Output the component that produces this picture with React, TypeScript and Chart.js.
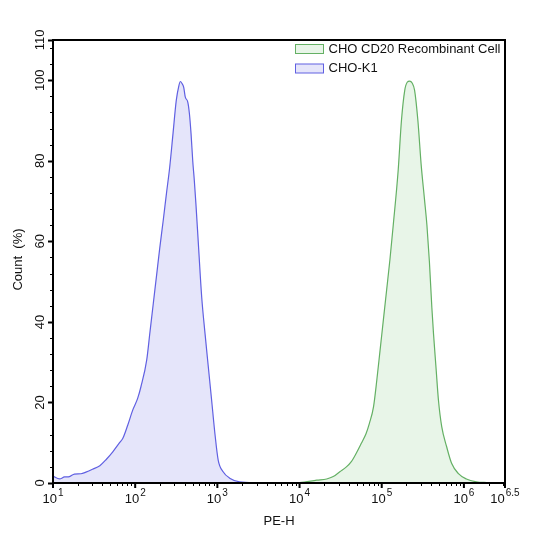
import React, { useEffect, useRef } from "react";
import Chart from "chart.js/auto";

// log10(PE-H) positions and counts (%)
const choK1Exp = [1.0, 1.08, 1.14, 1.2, 1.26, 1.34, 1.4, 1.48, 1.57, 1.65, 1.73, 1.81, 1.85, 1.91, 1.97, 2.03, 2.07, 2.14, 2.18, 2.22, 2.26, 2.3, 2.34, 2.38, 2.42, 2.46, 2.5, 2.53, 2.55, 2.57, 2.59, 2.61, 2.64, 2.66, 2.68, 2.7, 2.72, 2.74, 2.77, 2.81, 2.85, 2.89, 2.93, 2.97, 3.01, 3.07, 3.15, 3.27, 3.48, 3.8, 4.1];
const choK1Count = [1.7, 1.0, 1.5, 1.6, 2.2, 2.3, 2.7, 3.4, 4.3, 5.9, 7.8, 10.0, 11.1, 14.4, 18.1, 21.0, 23.9, 30.5, 37.5, 44.5, 51.5, 58.5, 65, 71.8, 78.4, 86.7, 95.0, 98.5, 99.7, 99.2, 98.3, 95.8, 94.6, 91.7, 86.7, 80.1, 75.0, 69.0, 59.0, 46.0, 37.1, 28.8, 20.6, 12.3, 5.7, 2.8, 1.2, 0.3, 0.1, 0.05, 0];

const cd20Exp = [3.3, 3.7, 4.0, 4.21, 4.33, 4.41, 4.49, 4.57, 4.63, 4.69, 4.75, 4.81, 4.85, 4.9, 4.94, 4.98, 5.02, 5.06, 5.1, 5.14, 5.2, 5.24, 5.28, 5.31, 5.34, 5.37, 5.4, 5.44, 5.48, 5.52, 5.55, 5.58, 5.61, 5.63, 5.66, 5.69, 5.73, 5.79, 5.85, 5.93, 6.03, 6.15, 6.28, 6.4];
const cd20Count = [0, 0.05, 0.1, 0.7, 1.0, 1.6, 2.8, 4.0, 5.3, 7.4, 9.8, 12.3, 14.8, 18.9, 25.5, 33.0, 40.5, 48.0, 55.5, 64.0, 77.6, 90.0, 97.5, 99.5, 99.8, 99.3, 97.5, 90.0, 79.0, 70.5, 64.0, 55.0, 43.5, 37.1, 28.8, 20.6, 14.0, 9.0, 4.9, 2.4, 1.0, 0.3, 0.1, 0];

const seriesNames = ["CHO CD20 Recombinant Cell", "CHO-K1"];
const xMajorExps = ["1", "2", "3", "4", "5", "6", "6.5"];
const yMajorTicks = [0, 20, 40, 60, 80, 100, 110];
const xTitle = "PE-H";
const yTitle = "Count  (%)";

const GREEN_LINE = "rgb(100,176,100)";
const GREEN_FILL = "rgb(232,245,232)";
const BLUE_LINE = "rgb(96,96,226)";
const BLUE_FILL = "rgb(229,229,250)";

const FONT = 'Arial, "Liberation Sans", sans-serif';

const axesPlugin = {
  id: "customAxes",
  afterDraw(chart: any) {
    const { ctx, chartArea } = chart;
    const { left, right, top, bottom } = chartArea;
    const xs = chart.scales.x;
    const ys = chart.scales.y;
    ctx.save();
    ctx.fillStyle = "#111";
    ctx.strokeStyle = "#000";

    // frame
    ctx.lineWidth = 2;
    ctx.beginPath();
    ctx.rect(left, top, right - left, bottom - top);
    ctx.stroke();

    // y ticks
    for (let v = 0; v <= 110; v += 2) {
      const major = yMajorTicks.includes(v);
      if (!major && v % 4 !== 0) continue;
      const py = Math.round(ys.getPixelForValue(v)) + 0.5;
      ctx.lineWidth = major ? 2 : 1;
      ctx.beginPath();
      ctx.moveTo(left, py);
      ctx.lineTo(left - (major ? 5 : 3), py);
      ctx.stroke();
    }
    ctx.font = "13px " + FONT;
    ctx.textAlign = "center";
    ctx.textBaseline = "middle";
    yMajorTicks.forEach((v) => {
      const py = ys.getPixelForValue(v);
      ctx.save();
      ctx.translate(40, py);
      ctx.rotate(-Math.PI / 2);
      ctx.fillText(String(v), 0, 0);
      ctx.restore();
    });
    // y title
    ctx.save();
    ctx.font = "13px " + FONT;
    ctx.translate(18, (top + bottom) / 2 - 2);
    ctx.rotate(-Math.PI / 2);
    ctx.fillText(yTitle, 0, 0);
    ctx.restore();

    // x minor ticks
    ctx.lineWidth = 1;
    for (let d = 1; d <= 6; d++) {
      for (let k = 2; k <= 9; k++) {
        const e = d + Math.log10(k);
        if (e > 6.5) continue;
        const px = Math.round(xs.getPixelForValue(e)) + 0.5;
        ctx.beginPath();
        ctx.moveTo(px, bottom);
        ctx.lineTo(px, bottom + 3);
        ctx.stroke();
      }
    }
    // x major ticks and labels
    ctx.textAlign = "left";
    ctx.textBaseline = "alphabetic";
    xMajorExps.forEach((es) => {
      const e = parseFloat(es);
      const px = xs.getPixelForValue(e);
      ctx.lineWidth = 2;
      ctx.beginPath();
      ctx.moveTo(px, bottom);
      ctx.lineTo(px, bottom + 5);
      ctx.stroke();
      ctx.font = "13px " + FONT;
      const wb = ctx.measureText("10").width;
      ctx.font = "10px " + FONT;
      const we = ctx.measureText(es).width;
      const start = px - (wb + we + 1) / 2;
      ctx.font = "13px " + FONT;
      ctx.fillText("10", start, 503);
      ctx.font = "10px " + FONT;
      ctx.fillText(es, start + wb + 1, 496);
    });
    // x title
    ctx.font = "13px " + FONT;
    ctx.textAlign = "center";
    ctx.fillText(xTitle, (left + right) / 2, 525);

    // legend
    const items = [
      { name: seriesNames[0], line: GREEN_LINE, fill: GREEN_FILL, y: 44 },
      { name: seriesNames[1], line: BLUE_LINE, fill: BLUE_FILL, y: 63.5 },
    ];
    ctx.font = "13px " + FONT;
    ctx.textAlign = "left";
    ctx.textBaseline = "middle";
    items.forEach((it) => {
      ctx.fillStyle = it.fill;
      ctx.fillRect(295.5, it.y + 0.5, 28, 9);
      ctx.strokeStyle = it.line;
      ctx.lineWidth = 1;
      ctx.strokeRect(295.5, it.y + 0.5, 28, 9);
      ctx.fillStyle = "#111";
      ctx.fillText(it.name, 328.5, it.y + 5);
    });
    ctx.restore();
  },
};

export default function App() {
  const ref = useRef<HTMLCanvasElement | null>(null);
  useEffect(() => {
    if (!ref.current) return;
    const chart = new Chart(ref.current, {
      type: "line",
      data: {
        datasets: [
          {
            label: seriesNames[1],
            data: choK1Exp.map((x, i) => ({ x, y: choK1Count[i] })),
            borderColor: BLUE_LINE,
            backgroundColor: BLUE_FILL,
            borderWidth: 1.2,
            pointRadius: 0,
            fill: "origin",
            cubicInterpolationMode: "monotone",
          },
          {
            label: seriesNames[0],
            data: cd20Exp.map((x, i) => ({ x, y: cd20Count[i] })),
            borderColor: GREEN_LINE,
            backgroundColor: GREEN_FILL,
            borderWidth: 1.2,
            pointRadius: 0,
            fill: "origin",
            cubicInterpolationMode: "monotone",
          },
        ],
      },
      options: {
        animation: false,
        responsive: false,
        maintainAspectRatio: false,
        layout: { padding: { left: 53, right: 36, top: 40, bottom: 60 } },
        plugins: { legend: { display: false }, tooltip: { enabled: false } },
        scales: {
          x: { type: "linear", min: 1, max: 6.5, display: false },
          y: { type: "linear", min: 0, max: 110, display: false },
        },
      },
      plugins: [axesPlugin],
    });
    return () => chart.destroy();
  }, []);
  return (
    <div style={{ position: "absolute", left: 0, top: 0, width: 541, height: 543, background: "#fff" }}>
      <canvas ref={ref} width={541} height={543} style={{ width: 541, height: 543 }} />
    </div>
  );
}
